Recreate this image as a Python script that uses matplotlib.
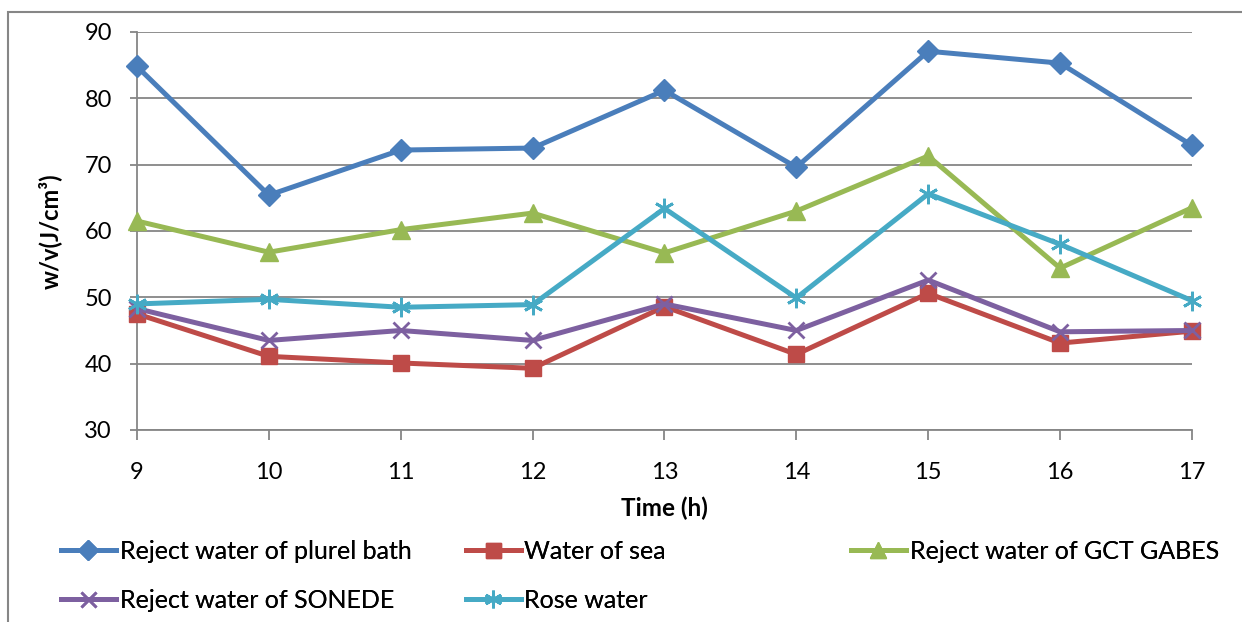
import matplotlib.pyplot as plt
from matplotlib.patches import Rectangle

plt.rcParams['font.family'] = ['Lato', 'DejaVu Sans']

hours = [9, 10, 11, 12, 13, 14, 15, 16, 17]
plurel_bath = [84.8, 65.4, 72.2, 72.5, 81.2, 69.6, 87.1, 85.3, 72.9]
sea = [47.5, 41.1, 40.1, 39.3, 48.6, 41.4, 50.6, 43.1, 44.9]
gct_gabes = [61.5, 56.8, 60.2, 62.7, 56.7, 63.0, 71.3, 54.4, 63.5]
sonede = [48.3, 43.5, 45.0, 43.5, 49.0, 45.0, 52.6, 44.8, 45.0]
rose = [49.0, 49.7, 48.5, 48.9, 63.4, 49.9, 65.6, 58.0, 49.5]

series = [
    ('Reject water of plurel bath', plurel_bath, '#4A7EBB', 'D', 11),
    ('Water of sea', sea, '#BE4B48', 's', 12),
    ('Reject water of GCT GABES', gct_gabes, '#98B954', '^', 13),
    ('Reject water of SONEDE', sonede, '#7D60A0', 'x', 12),
    ('Rose water', rose, '#46AAC5', (6, 2, 0), 14),
]

fig = plt.figure(figsize=(12.42, 6.22), dpi=100)
ax = fig.add_axes([0.1103, 0.3087, 0.8494, 0.6399])

handles = []
for label, vals, color, marker, ms in series:
    mew = 2 if marker in ('x', (6, 2, 0)) else 1
    h, = ax.plot(hours, vals, color=color, lw=3.6, marker=marker,
                 markersize=ms, markeredgewidth=mew, markeredgecolor=color,
                 label=label, clip_on=False, zorder=3)
    handles.append(h)

grid_c = '#868686'
ax.set_xlim(9, 17)
ax.set_ylim(30, 90)
ax.set_xticks(hours)
ax.set_yticks(range(30, 91, 10))
ax.yaxis.grid(True, color=grid_c, lw=1.3)
ax.set_axisbelow(True)
for s in ('top', 'right'):
    ax.spines[s].set_visible(False)
for s in ('left', 'bottom'):
    ax.spines[s].set_color(grid_c)
    ax.spines[s].set_linewidth(1.3)
ax.tick_params(axis='x', length=7, width=1.3, color=grid_c, pad=16, labelsize=17)
ax.tick_params(axis='y', length=5, width=1.3, color=grid_c, pad=13, labelsize=17)

ax.set_xlabel('Time (h)', fontsize=17.5, fontweight='bold', labelpad=10)
ax.set_ylabel('w/v(J/cm³)', fontsize=17, fontweight='bold', labelpad=16)

# three legend columns spread across the width
cols = [([handles[0], handles[3]], 0.049),
        ([handles[1], handles[4]], 0.375),
        ([handles[2]], 0.685)]
for hs, x in cols:
    leg = fig.legend(handles=hs, loc='upper left', bbox_to_anchor=(x, 0.132),
                     frameon=False, fontsize=18, handlelength=2.2,
                     handletextpad=0.15, labelspacing=1.05, borderaxespad=0,
                     borderpad=0)
    for lh in leg.legend_handles:
        lh.set_markersize(lh.get_markersize() * 0.9)
    fig.add_artist(leg)

fig.patches.append(Rectangle((0.0064, -0.1), 1.2, 1.081, transform=fig.transFigure,
                             fill=False, edgecolor=grid_c, lw=1.5))

fig.savefig('out.png', dpi=100)
